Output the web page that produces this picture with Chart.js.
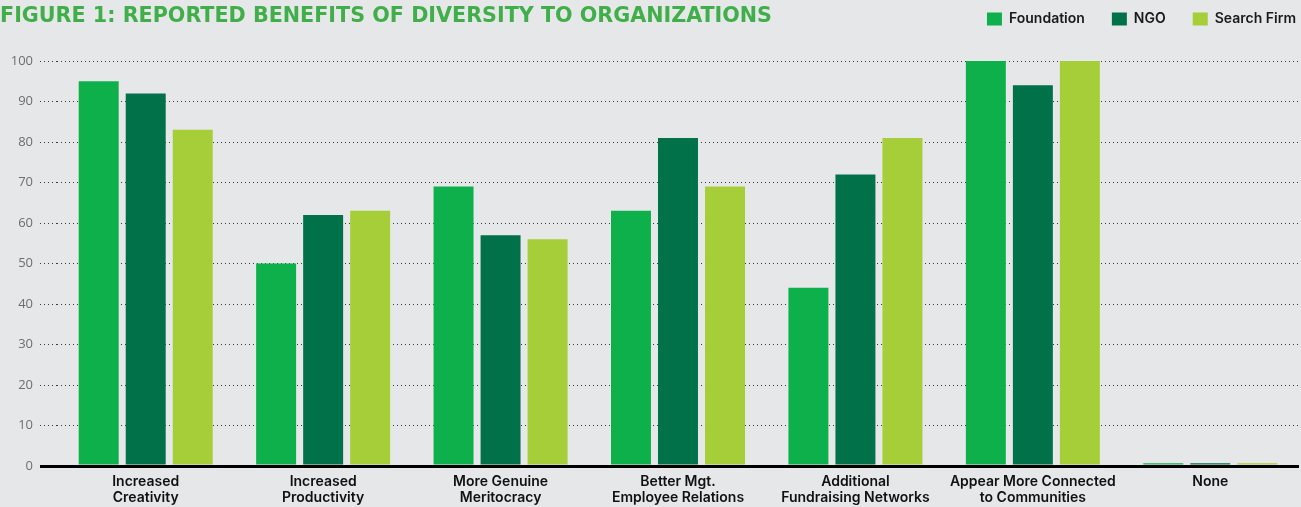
<!DOCTYPE html>
<html>
<head>
<meta charset="utf-8">
<script src="https://cdn.jsdelivr.net/npm/chart.js@4"></script>
<style>
  html, body { margin: 0; padding: 0; background: #e6e7e8; }
  #wrap { position: relative; width: 1301px; height: 507px; overflow: hidden; }
  #title {
    position: absolute; left: 0; top: 3px;
    font-family: "DejaVu Sans Condensed", "DejaVu Sans", sans-serif;
    font-weight: bold; font-size: 21px; color: #40ae49;
    white-space: nowrap; transform-origin: left top;
  }
  canvas { position: absolute; left: 0; top: 0; }
</style>
</head>
<body>
<div id="wrap">
  <canvas id="chart" width="1301" height="507"></canvas>
  <div id="title">FIGURE 1: REPORTED BENEFITS OF DIVERSITY TO ORGANIZATIONS</div>
</div>
<script>
// categories (two-line labels as on the figure)
const categories = [
  ["Increased", "Creativity"],
  ["Increased", "Productivity"],
  ["More Genuine", "Meritocracy"],
  ["Better Mgt.", "Employee Relations"],
  ["Additional", "Fundraising Networks"],
  ["Appear More Connected", "to Communities"],
  "None"
];

const seriesNames = ["Foundation", "NGO", "Search Firm"];
const foundation = [95, 50, 69, 63, 44, 100, 0.7];
const ngo = [92, 62, 57, 81, 72, 94, 0.7];
const searchFirm = [83, 63, 56, 69, 81, 100, 0.7];
const yTicks = [0, 10, 20, 30, 40, 50, 60, 70, 80, 90, 100];

const colors = ["#0db04b", "#007148", "#a6ce39"];

// squeeze the title to the width it has in the figure
const title = document.getElementById("title");
const tw = title.getBoundingClientRect().width;
title.style.transform = "scaleX(" + (772 / tw) + ")";

const uiFont = "Inter, 'Open Sans', sans-serif";

// move the legend to where it sits in the figure
const legendShift = {
  id: "legendShift",
  afterLayout(chart) {
    const lg = chart.legend;
    lg.left += 24; lg.right += 24;
    lg.top -= 25; lg.bottom -= 25;
  }
};

new Chart(document.getElementById("chart"), {
  type: "bar",
  data: {
    labels: categories,
    datasets: [
      { label: seriesNames[0], data: foundation, backgroundColor: colors[0] },
      { label: seriesNames[1], data: ngo, backgroundColor: colors[1] },
      { label: seriesNames[2], data: searchFirm, backgroundColor: colors[2] }
    ]
  },
  options: {
    responsive: false,
    animation: false,
    devicePixelRatio: 1,
    categoryPercentage: 0.795,
    barPercentage: 0.85,
    layout: { padding: { top: 10, right: 2, left: 0, bottom: 0 } },
    plugins: {
      tooltip: { enabled: false },
      legend: {
        position: "top",
        align: "end",
        labels: {
          boxWidth: 15,
          boxHeight: 13,
          padding: 27,
          color: "#1a1a1a",
          font: { family: uiFont, size: 14, weight: "600" }
        }
      }
    },
    scales: {
      x: {
        afterFit(scale) { scale.height = 41; },
        grid: { display: false, drawTicks: false },
        border: { display: false },
        ticks: {
          color: "#111",
          padding: 7,
          maxRotation: 0,
          autoSkip: false,
          font: { family: uiFont, size: 14, weight: "600", lineHeight: 1.2 }
        }
      },
      y: {
        min: 0,
        max: 100,
        afterBuildTicks(scale) {
          scale.ticks = yTicks.map(v => ({ value: v }));
        },
        afterFit(scale) { scale.width = 57; },
        border: {
          display: false,
          dash: ctx => (ctx.tick && ctx.tick.value === 0 ? [] : [1, 3])
        },
        grid: {
          color: ctx => (ctx.tick && ctx.tick.value === 0 ? "#000" : "#3a3a3a"),
          lineWidth: ctx => (ctx.tick && ctx.tick.value === 0 ? 3 : 1),
          tickLength: 17,
          tickColor: ctx => (ctx.tick && ctx.tick.value === 0 ? "#000" : "#3a3a3a"),
          tickWidth: ctx => (ctx.tick && ctx.tick.value === 0 ? 3 : 1),
          tickBorderDash: ctx => (ctx.tick && ctx.tick.value === 0 ? [] : [1, 3])
        },
        ticks: {
          color: "#6d6e71",
          padding: 7,
          font: { family: "'Open Sans', sans-serif", size: 13 }
        }
      }
    }
  },
  plugins: [legendShift]
});
</script>
</body>
</html>
